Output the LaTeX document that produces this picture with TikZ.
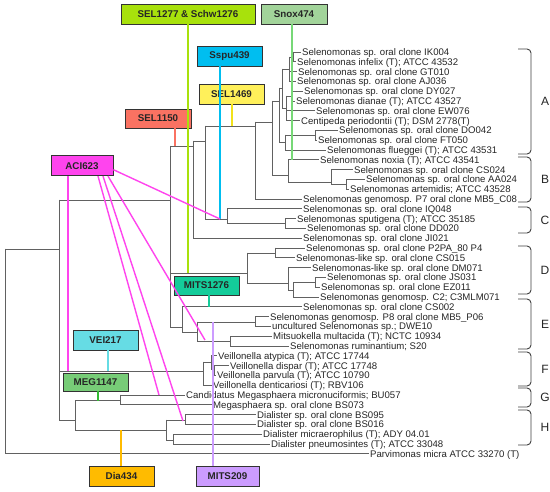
\documentclass[tikz,border=0pt]{standalone}
\usepackage{fontspec}
\setmainfont{Liberation Sans}
\definecolor{cSEL}{HTML}{A8E10C}
\definecolor{cSnoxB}{HTML}{A2D49A}
\definecolor{cSnoxL}{HTML}{77D877}
\definecolor{cSspu}{HTML}{00BEF0}
\definecolor{cSELy}{HTML}{FFF05A}
\definecolor{cSELyL}{HTML}{F2E21A}
\definecolor{cSELr}{HTML}{FA7262}
\definecolor{cACI}{HTML}{FF44EE}
\definecolor{cVEI}{HTML}{66DCE4}
\definecolor{cMEGB}{HTML}{77CC77}
\definecolor{cMEGL}{HTML}{33BB33}
\definecolor{cDia}{HTML}{FFBB00}
\definecolor{cMITSa}{HTML}{CC9CFF}
\definecolor{cMITSb}{HTML}{14CC9A}
\tikzset{
 br/.style={draw=black!62, line width=0.8pt, line cap=rect},
 leaf/.style={anchor=west, inner sep=0pt, text height=6.9pt, text depth=0pt, font=\fontsize{9.6}{10}\selectfont, text=black!85},
 probe/.style={draw=black!80, line width=0.8pt, minimum width=65pt, minimum height=20pt, inner sep=1pt, font=\bfseries\fontsize{9.8}{12}\selectfont, text=black!85},
 pl/.style={line width=1.4pt},
 brk/.style={draw=black!75, line width=0.9pt, rounded corners=4pt},
 letter/.style={font=\fontsize{12}{14}\selectfont, text=black!85},
}
\newcommand{\innode}[4]{\coordinate (#1) at (#3,#4); \draw[br] (#2 |- #1) -- (#1);}
\newcommand{\leafnode}[5]{\node[leaf] (#1) at (#3,#4) {#5}; \draw[br] (#2 |- #1.west) -- ([xshift=-1.2pt]#1.west);}
\newcommand{\treevert}[3]{\draw[br] (#1 |- #2) -- (#1 |- #3);}
\begin{document}
\begin{tikzpicture}[x=1pt,y=-1pt]
\useasboundingbox (0,0) rectangle (550,492);
\fill[white] (0,0) rectangle (550,492);
% ---- internal nodes
\coordinate (R) at (5,249);
\innode{N59}{R}{59}{249}
\innode{N170}{N59}{170}{200}
\innode{N193}{N170}{193}{146}
\innode{N205}{N193}{205}{141}
\innode{N255}{N205}{255}{126}
\innode{N272}{N255}{272}{122}
\innode{A0}{N272}{279}{101}
\innode{Aup}{A0}{282}{88}
\innode{a2}{Aup}{289}{69}
\innode{a1}{a2}{293}{57}
\innode{a4}{Aup}{286}{108}
\innode{a3}{a4}{292}{96}
\innode{Alow}{A0}{285}{142}
\innode{a5}{Alow}{315}{135}
\innode{B0}{N272}{288}{175}
\innode{B1}{B0}{331}{182}
\innode{B2}{B1}{346}{184.3}
\innode{C0}{N205}{227}{219}
\innode{C1}{C0}{285}{223.5}
\innode{D0}{N170}{247}{273}
\innode{D1}{D0}{275}{253}
\innode{D2}{D0}{288}{283}
\innode{D3}{D2}{293}{290}
\innode{D4}{D3}{315}{282.3}
\innode{E0}{N170}{182}{327}
\innode{E1}{E0}{197}{332}
\innode{E2}{E1}{255}{322}
\innode{E3}{E1}{230}{341}
\innode{F0}{N59}{203}{371}
\innode{F1}{F0}{211}{362}
\innode{F2}{F1}{214}{369}
\innode{N75}{N59}{75}{420}
\innode{G0}{N75}{120}{400.7}
\innode{H0}{N75}{166}{430}
\innode{H1}{H0}{185}{420}
\innode{H2}{H0}{173}{440}
% ---- leaves
\leafnode{L1}{a1}{302}{52}{Selenomonas sp. oral clone IK004}
\leafnode{L2}{a1}{297}{61.8}{Selenomonas infelix (T); ATCC 43532}
\leafnode{L3}{a2}{298}{71.6}{Selenomonas sp. oral clone GT010}
\leafnode{L4}{a2}{297}{81.4}{Selenomonas sp. oral clone AJ036}
\leafnode{L5}{a3}{304}{91.2}{Selenomonas sp. oral clone DY027}
\leafnode{L6}{a3}{296}{101}{Selenomonas dianae (T); ATCC 43527}
\leafnode{L7}{a4}{316}{110.8}{Selenomonas sp. oral clone EW076}
\leafnode{L8}{a4}{301}{120.6}{Centipeda periodontii (T); DSM 2778(T)}
\leafnode{L9}{a5}{339}{130.4}{Selenomonas sp. oral clone DO042}
\leafnode{L10}{a5}{318}{140.2}{Selenomonas sp. oral clone FT050}
\leafnode{L11}{Alow}{327}{150}{Selenomonas flueggei (T); ATCC 43531}
\leafnode{L12}{B0}{320}{159.8}{Selenomonas noxia (T); ATCC 43541}
\leafnode{L13}{B1}{354}{169.6}{Selenomonas sp. oral clone CS024}
\leafnode{L14}{B2}{366}{179.4}{Selenomonas sp. oral clone AA024}
\leafnode{L15}{B2}{350}{189.2}{Selenomonas artemidis; ATCC 43528}
\leafnode{L16}{N255}{303}{199}{Selenomonas genomosp. P7 oral clone MB5\_C08}
\leafnode{L17}{C0}{303}{208.8}{Selenomonas sp. oral clone IQ048}
\leafnode{L18}{C1}{297}{218.6}{Selenomonas sputigena (T); ATCC 35185}
\leafnode{L19}{C1}{307}{228.4}{Selenomonas sp. oral clone DD020}
\leafnode{L20}{N193}{303}{238.2}{Selenomonas sp. oral clone JI021}
\leafnode{L21}{D1}{306}{248}{Selenomonas sp. oral clone P2PA\_80 P4}
\leafnode{L22}{D1}{296}{257.8}{Selenomonas-like sp. oral clone CS015}
\leafnode{L23}{D2}{312}{267.6}{Selenomonas-like sp. oral clone DM071}
\leafnode{L24}{D4}{327}{277.4}{Selenomonas sp. oral clone JS031}
\leafnode{L25}{D4}{321}{287.2}{Selenomonas sp. oral clone EZ011}
\leafnode{L26}{D3}{320}{297}{Selenomonas genomosp. C2; C3MLM071}
\leafnode{L27}{E0}{303}{306.8}{Selenomonas sp. oral clone CS002}
\leafnode{L28}{E2}{270}{316.6}{Selenomonas genomosp. P8 oral clone MB5\_P06}
\leafnode{L29}{E2}{272}{326.4}{uncultured Selenomonas sp.; DWE10}
\leafnode{L30}{E3}{273}{336.2}{Mitsuokella multacida (T); NCTC 10934}
\leafnode{L31}{E3}{290}{346}{Selenomonas ruminantium; S20}
\leafnode{L32}{F1}{218}{355.8}{Veillonella atypica (T); ATCC 17744}
\leafnode{L33}{F2}{230}{365.6}{Veillonella dispar (T); ATCC 17748}
\leafnode{L34}{F2}{217}{375.4}{Veillonella parvula (T); ATCC 10790}
\leafnode{L35}{F0}{213}{385.2}{Veillonella denticariosi (T); RBV106}
\leafnode{L36}{G0}{186}{395}{Candidatus Megasphaera micronuciformis; BU057}
\leafnode{L37}{G0}{213}{404.8}{Megasphaera sp. oral clone BS073}
\leafnode{L38}{H1}{257}{414.6}{Dialister sp. oral clone BS095}
\leafnode{L39}{H1}{257}{424.4}{Dialister sp. oral clone BS016}
\leafnode{L40}{H2}{263}{434.2}{Dialister micraerophilus (T); ADY 04.01}
\leafnode{L41}{H2}{271}{444}{Dialister pneumosintes (T); ATCC 33048}
\leafnode{L42}{R}{370}{453.8}{Parvimonas micra ATCC 33270 (T)}
% ---- verticals
\treevert{R}{N59}{L42}
\treevert{N59}{N170}{N75}
\treevert{N170}{N193}{E0}
\treevert{N193}{N205}{L20}
\treevert{N205}{N255}{C0}
\treevert{N255}{N272}{L16}
\treevert{N272}{A0}{B0}
\treevert{A0}{Aup}{Alow}
\treevert{Aup}{a2}{a4}
\treevert{a2}{a1}{L4}
\treevert{a1}{L1}{L2}
\treevert{a4}{a3}{L8}
\treevert{a3}{L5}{L6}
\treevert{Alow}{a5}{L11}
\treevert{a5}{L9}{L10}
\treevert{B0}{L12}{B1}
\treevert{B1}{L13}{B2}
\treevert{B2}{L14}{L15}
\treevert{C0}{L17}{C1}
\treevert{C1}{L18}{L19}
\treevert{D0}{D1}{D2}
\treevert{D1}{L21}{L22}
\treevert{D2}{L23}{D3}
\treevert{D3}{D4}{L26}
\treevert{D4}{L24}{L25}
\treevert{E0}{L27}{E1}
\treevert{E1}{E2}{E3}
\treevert{E2}{L28}{L29}
\treevert{E3}{L30}{L31}
\treevert{F0}{F1}{L35}
\treevert{F1}{L32}{F2}
\treevert{F2}{L33}{L34}
\treevert{N75}{G0}{H0}
\treevert{G0}{L36}{L37}
\treevert{H0}{H1}{H2}
\treevert{H1}{L38}{L39}
\treevert{H2}{L40}{L41}
% ---- brackets
\draw[brk] (518,49) -- (531,49) -- (531,154) -- (518,154);
\draw[brk] (518,157) -- (531,157) -- (531,202) -- (518,202);
\draw[brk] (518,207) -- (531,207) -- (531,233) -- (518,233);
\draw[brk] (518,246) -- (531,246) -- (531,294) -- (518,294);
\draw[brk] (518,299) -- (531,299) -- (531,349) -- (518,349);
\draw[brk] (518,352) -- (531,352) -- (531,386) -- (518,386);
\draw[brk] (518,388) -- (531,388) -- (531,407) -- (518,407);
\draw[brk] (518,410) -- (531,410) -- (531,445) -- (518,445);
\node[letter] (kA) at (545,101) {A};
\node[letter] (kB) at (545,179) {B};
\node[letter] (kC) at (545,220) {C};
\node[letter] (kD) at (545,270) {D};
\node[letter] (kE) at (545,324) {E};
\node[letter] (kF) at (545,369) {F};
\node[letter] (kG) at (545,397) {G};
\node[letter] (kH) at (545,427) {H};
% ---- probe targets
\coordinate (t1) at (188,273);
\coordinate (t2) at (292,159.8);
\coordinate (t3) at (220,219);
\coordinate (t4) at (232,126);
\coordinate (t5) at (175,146);
\coordinate (t7) at (108,371);
\coordinate (t8) at (98,400.7);
\coordinate (t9) at (121,430);
\coordinate (t10) at (213,322);
\coordinate (t11) at (209,306.8);
\coordinate (u1) at (68,371);
\coordinate (u2) at (159,395);
\coordinate (u3) at (183,421);
\coordinate (u4) at (205,340);
% ---- probe boxes
\node[probe, fill=cSEL, minimum width=134pt] (P1) at (188,14) {SEL1277 \& Schw1276};
\node[probe, fill=cSnoxB, minimum width=66pt] (P2) at (294,14) {Snox474};
\node[probe, fill=cSspu] (P3) at (229.5,56) {Sspu439};
\node[probe, fill=cSELy] (P4) at (231.5,94) {SEL1469};
\node[probe, fill=cSELr, minimum width=66pt, minimum height=19pt] (P5) at (158,118.5) {SEL1150};
\node[probe, fill=cVEI] (P7) at (105.5,340) {VEI217};
\node[probe, fill=cMEGB, minimum height=18pt] (P8) at (95.5,382) {MEG1147};
\node[probe, fill=cDia] (P9) at (121.5,476.5) {Dia434};
\node[probe, fill=cMITSa, minimum width=63pt] (P10) at (227.5,476) {MITS209};
\node[probe, fill=cMITSb, minimum height=19pt] (P11) at (206.5,285.5) {MITS1276};
\node[probe, fill=cACI, minimum width=62pt] (P6) at (82,165.7) {ACI623};
% ---- probe lines
\draw[pl, draw=cSEL] (t1 |- P1.south) -- (t1);
\draw[pl, draw=cSnoxL] (t2 |- P2.south) -- (t2);
\draw[pl, draw=cSspu] (t3 |- P3.south) -- (t3);
\draw[pl, draw=cSELyL] (t4 |- P4.south) -- (t4);
\draw[pl, draw=cSELr] (t5 |- P5.south) -- (t5);
\draw[pl, draw=cVEI] (t7 |- P7.south) -- (t7);
\draw[pl, draw=cMEGL] (t8 |- P8.south) -- (t8);
\draw[pl, draw=cDia] (t9 |- P9.north) -- (t9);
\draw[pl, draw=cMITSa] (t10 |- P10.north) -- (t10);
\draw[pl, draw=cMITSb] (t11 |- P11.south) -- (t11);
\draw[pl, draw=cACI] (u1 |- P6.south) -- (u1);
\draw[pl, draw=cACI] ([xshift=16pt]P6.south) -- (u2);
\draw[pl, draw=cACI] ([xshift=21pt]P6.south) -- (u3);
\draw[pl, draw=cACI] ([xshift=26pt]P6.south) -- (u4);
\draw[pl, draw=cACI] ([yshift=-4pt]P6.east) -- (t3);
\end{tikzpicture}
\end{document}
